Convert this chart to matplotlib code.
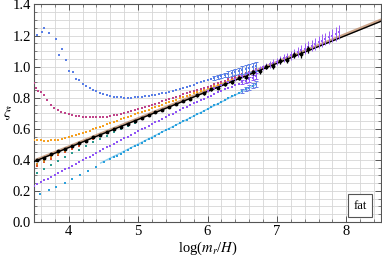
import numpy as np
import matplotlib
matplotlib.use("Agg")
import matplotlib.pyplot as plt
from matplotlib.ticker import MultipleLocator

plt.rcParams['font.family'] = ['Liberation Serif', 'DejaVu Serif']
plt.rcParams['mathtext.fontset'] = 'stix'

# ---- data ----
# blue
blue_x = [3.55, 3.61, 3.65, 3.71, 3.81, 3.86, 3.90, 3.96, 4.01, 4.06, 4.10, 4.15,
          4.20, 4.25, 4.30, 4.35, 4.40, 4.45, 4.50, 4.55, 4.60, 4.65, 4.70, 4.75, 4.80, 4.85,
          4.90, 4.95, 5.00, 5.05, 5.10, 5.15, 5.20, 5.25, 5.30, 5.35, 5.40, 5.45, 5.50, 5.55,
          5.60, 5.65, 5.70, 5.75, 5.80, 5.85, 5.90, 5.95, 6.00, 6.05, 6.10, 6.15, 6.20, 6.25,
          6.30, 6.35, 6.40, 6.45, 6.50, 6.55, 6.60, 6.65, 6.70]
blue_y = [1.202, 1.226, 1.250, 1.219, 1.176, 1.073, 1.116, 1.045, 0.970, 0.963, 0.921, 0.916,
          0.890, 0.876, 0.862, 0.851, 0.841, 0.832, 0.824, 0.817, 0.812, 0.807, 0.804, 0.802,
          0.801, 0.801, 0.801, 0.802, 0.803, 0.805, 0.808, 0.811, 0.815, 0.819, 0.823, 0.828,
          0.833, 0.839, 0.845, 0.851, 0.857, 0.864, 0.871, 0.878, 0.885, 0.892, 0.899, 0.906,
          0.913, 0.920, 0.927, 0.934, 0.940, 0.947, 0.953, 0.960, 0.966, 0.972, 0.978, 0.984,
          0.990, 0.996, 1.002]
blue_err = [0.010, 0.012, 0.014, 0.015, 0.017, 0.018, 0.020, 0.021, 0.023, 0.024, 0.026, 0.027, 0.029]

# magenta
mag_x = [3.50, 3.53, 3.56, 3.60, 3.64, 3.69, 3.74, 3.79, 3.84, 3.89, 3.94,
         4.00, 4.05, 4.10, 4.15, 4.20, 4.25, 4.30, 4.35, 4.40, 4.45, 4.50, 4.55, 4.60, 4.65,
         4.70, 4.75, 4.80, 4.85, 4.90, 4.95, 5.00, 5.05, 5.10, 5.15, 5.20, 5.25, 5.30, 5.35,
         5.40, 5.45, 5.50, 5.55, 5.60, 5.65, 5.70, 5.75, 5.80, 5.85, 5.90, 5.95, 6.00, 6.05,
         6.10, 6.15, 6.20, 6.25, 6.30, 6.35, 6.40, 6.45, 6.50, 6.55, 6.60, 6.65, 6.70]
mag_y = [0.895, 0.860, 0.845, 0.835, 0.820, 0.785, 0.755, 0.735, 0.722, 0.711, 0.702,
         0.695, 0.689, 0.684, 0.680, 0.677, 0.675, 0.674, 0.673, 0.673, 0.674, 0.676, 0.679,
         0.682, 0.686, 0.690, 0.695, 0.700, 0.706, 0.712, 0.718, 0.725, 0.732, 0.739, 0.746,
         0.753, 0.760, 0.768, 0.776, 0.784, 0.792, 0.800, 0.807, 0.814, 0.821, 0.828, 0.835,
         0.842, 0.849, 0.856, 0.863, 0.870, 0.878, 0.886, 0.894, 0.902, 0.910, 0.918, 0.926,
         0.934, 0.942, 0.950, 0.958, 0.966, 0.974, 0.982]

# orange
orn_x = [3.50, 3.55, 3.60, 3.65, 3.70, 3.75, 3.80, 3.85, 3.90, 3.95, 4.00, 4.05, 4.10,
         4.15, 4.20, 4.25, 4.30, 4.35, 4.40, 4.45, 4.50, 4.55, 4.60, 4.65, 4.70, 4.75, 4.80,
         4.85, 4.90, 4.95, 5.00, 5.05, 5.10, 5.15, 5.20, 5.25, 5.30, 5.35, 5.40, 5.45, 5.50,
         5.55, 5.60, 5.65, 5.70, 5.75, 5.80, 5.85, 5.90, 5.95, 6.00, 6.05, 6.10, 6.15, 6.20,
         6.25, 6.30, 6.35, 6.40, 6.45, 6.50, 6.55, 6.60, 6.65, 6.70]
orn_y = [0.528, 0.526, 0.525, 0.524, 0.524, 0.525, 0.527, 0.530, 0.534, 0.539, 0.545, 0.551,
         0.558, 0.565, 0.572, 0.580, 0.588, 0.596, 0.604, 0.612, 0.620, 0.628, 0.636, 0.644,
         0.652, 0.660, 0.668, 0.676, 0.684, 0.692, 0.700, 0.708, 0.716, 0.724, 0.732, 0.740,
         0.748, 0.756, 0.764, 0.772, 0.780, 0.788, 0.796, 0.804, 0.812, 0.820, 0.828, 0.836,
         0.844, 0.852, 0.860, 0.868, 0.876, 0.884, 0.892, 0.900, 0.909, 0.917, 0.926, 0.934,
         0.943, 0.951, 0.960, 0.968, 0.977]

# purple (low start)
pur_x = [3.50, 3.55, 3.60, 3.65, 3.70, 3.75, 3.80, 3.85, 3.90, 3.95, 4.00, 4.05, 4.10,
         4.15, 4.20, 4.25, 4.30, 4.35, 4.40, 4.45, 4.50, 4.55, 4.60, 4.65, 4.70, 4.75, 4.80,
         4.85, 4.90, 4.95, 5.00, 5.05, 5.10, 5.15, 5.20, 5.25, 5.30, 5.35, 5.40, 5.45, 5.50,
         5.55, 5.60, 5.65, 5.70, 5.75, 5.80, 5.85, 5.90, 5.95, 6.00, 6.05, 6.10, 6.15, 6.20,
         6.25, 6.30, 6.35, 6.40, 6.45, 6.50, 6.55, 6.60, 6.65, 6.70]
pur_y = [0.232, 0.244, 0.256, 0.268, 0.279, 0.291, 0.303, 0.315, 0.326, 0.338, 0.350, 0.362,
         0.374, 0.386, 0.397, 0.409, 0.421, 0.433, 0.444, 0.456, 0.468, 0.480, 0.491, 0.503,
         0.515, 0.527, 0.538, 0.550, 0.562, 0.573, 0.585, 0.596, 0.608, 0.619, 0.631, 0.642,
         0.653, 0.665, 0.676, 0.687, 0.698, 0.709, 0.720, 0.731, 0.742, 0.752, 0.763, 0.773,
         0.784, 0.794, 0.804, 0.814, 0.824, 0.834, 0.843, 0.853, 0.863, 0.872, 0.882, 0.891,
         0.901, 0.910, 0.920, 0.929, 0.938]
pur_err = [0.012, 0.014, 0.016, 0.018, 0.020]

# violet (high x)
vio_x = [6.00, 6.05, 6.10, 6.15, 6.20, 6.25, 6.30, 6.35, 6.40, 6.45, 6.50, 6.55, 6.60,
         6.65, 6.70, 6.75, 6.80, 6.85, 6.90, 6.95, 7.00, 7.05, 7.10, 7.15, 7.20, 7.25, 7.30,
         7.35, 7.40, 7.45, 7.50, 7.55, 7.60, 7.65, 7.70, 7.75, 7.80, 7.85, 7.90]
vio_y = [0.843, 0.852, 0.862, 0.871, 0.881, 0.890, 0.900, 0.909, 0.919, 0.928, 0.938, 0.947,
         0.957, 0.966, 0.976, 0.985, 0.995, 1.004, 1.014, 1.024, 1.033, 1.043, 1.053, 1.063,
         1.073, 1.084, 1.094, 1.105, 1.115, 1.126, 1.136, 1.147, 1.157, 1.168, 1.178, 1.189,
         1.199, 1.210, 1.220]
vio_err = [0.004, 0.005, 0.005, 0.006, 0.006, 0.007, 0.008, 0.008, 0.009, 0.010, 0.012,
           0.013, 0.014, 0.015, 0.016, 0.017, 0.018, 0.020, 0.021, 0.022, 0.024, 0.025,
           0.026, 0.027, 0.029, 0.030, 0.031, 0.033, 0.034, 0.036, 0.037, 0.038, 0.039,
           0.040, 0.041, 0.042, 0.043, 0.044, 0.045]

# cyan
cyan_x = [3.59, 3.71, 3.82, 3.94, 4.05, 4.17, 4.28, 4.40, 4.51,
          4.60, 4.65, 4.70, 4.75, 4.80, 4.85, 4.90, 4.95, 5.00, 5.05, 5.10, 5.15, 5.20, 5.25,
          5.30, 5.35, 5.40, 5.45, 5.50, 5.55, 5.60, 5.65, 5.70, 5.75, 5.80, 5.85, 5.90, 5.95,
          6.00, 6.05, 6.10, 6.15, 6.20, 6.25, 6.30, 6.35, 6.40, 6.45, 6.50, 6.55, 6.60, 6.65, 6.70]
cyan_y = [0.178, 0.203, 0.228, 0.254, 0.279, 0.305, 0.331, 0.357, 0.383,
          0.405, 0.417, 0.428, 0.440, 0.451, 0.463, 0.474, 0.486, 0.497, 0.509, 0.520, 0.532,
          0.543, 0.555, 0.566, 0.578, 0.589, 0.601, 0.612, 0.624, 0.635, 0.647, 0.658, 0.670,
          0.681, 0.693, 0.704, 0.716, 0.727, 0.739, 0.750, 0.762, 0.773, 0.785, 0.796, 0.808,
          0.819, 0.831, 0.842, 0.854, 0.865, 0.877, 0.888]
cyan_err = [0.012, 0.014, 0.015, 0.017, 0.018]

# small runs at low x (red, dark orange, teal)
red_x = [3.55, 3.65, 3.75, 3.85, 3.95, 4.05, 4.15, 4.25, 4.35, 4.45, 4.55, 4.65, 4.75, 4.85, 4.95, 5.05]
red_y = [0.360, 0.385, 0.405, 0.430, 0.450, 0.472, 0.492, 0.513, 0.534, 0.553, 0.573, 0.592,
         0.611, 0.630, 0.648, 0.666]
dor_y = [0.375, 0.395, 0.418, 0.438, 0.458, 0.480, 0.500, 0.520, 0.540, 0.558, 0.577, 0.596,
         0.614, 0.632, 0.650, 0.668]
teal_x = [3.55, 3.65, 3.75, 3.85, 3.95, 4.05, 4.15, 4.25, 4.35, 4.45, 4.55, 4.65, 4.75, 4.85, 4.95]
teal_y = [0.315, 0.340, 0.367, 0.393, 0.418, 0.443, 0.466, 0.490, 0.512, 0.535, 0.556, 0.578,
          0.598, 0.618, 0.638]

# black points
blk_x = [3.55, 3.65, 3.75, 3.85, 3.95, 4.05, 4.15, 4.25, 4.35, 4.45, 4.55, 4.65, 4.75, 4.85,
         4.95, 5.05, 5.15, 5.25, 5.35, 5.45, 5.55, 5.65, 5.75, 5.85, 5.95, 6.05, 6.15, 6.25,
         6.35, 6.45, 6.55, 6.65, 6.75, 6.85, 6.95, 7.05, 7.15, 7.25, 7.35, 7.45]
blk_y = [0.400, 0.415, 0.436, 0.455, 0.470, 0.490, 0.508, 0.524, 0.545, 0.560, 0.580, 0.598,
         0.614, 0.634, 0.650, 0.671, 0.686, 0.706, 0.722, 0.742, 0.758, 0.779, 0.794, 0.815,
         0.829, 0.853, 0.865, 0.889, 0.900, 0.926, 0.935, 0.963, 0.970, 1.000, 1.005, 1.038,
         1.045, 1.075, 1.080, 1.112]
blk_err = [0.003, 0.003, 0.003, 0.003, 0.003, 0.003, 0.003, 0.003, 0.004, 0.004, 0.004, 0.004,
           0.004, 0.005, 0.005, 0.005, 0.005, 0.006, 0.006, 0.006, 0.007, 0.007, 0.008, 0.008,
           0.009, 0.010, 0.010, 0.011, 0.012, 0.013, 0.014, 0.015, 0.016, 0.017, 0.018, 0.019,
           0.020, 0.021, 0.022, 0.024]

# fit lines
fit_x = [3.5, 8.5]
fit_y = [0.389, 1.292]
fit2_y = [0.393, 1.300]
lb_x = [4.46, 6.70]
lb_y = [0.380, 0.885]

# ---- figure ----
fig = plt.figure(figsize=(3.82, 2.58), dpi=100)
ax = fig.add_axes([34 / 382, 1 - 222 / 258, 347 / 382, 217.5 / 258])

ax.plot(fit_x, fit2_y, color='#c09070', lw=2.2, alpha=0.8, zorder=2)
ax.plot(lb_x, lb_y, color='#8fd0f0', lw=1.0, zorder=2)
ax.plot(fit_x, fit_y, color='black', lw=1.0, zorder=3)

ms = 2.0
ax.plot(teal_x, teal_y, 's', color='#2a9a8e', ms=ms, mew=0, zorder=4)
ax.plot(red_x, red_y, 's', color='#e0502a', ms=ms, mew=0, zorder=4)
ax.plot(red_x, dor_y, 's', color='#d98a22', ms=ms, mew=0, zorder=4)
ax.plot(cyan_x, cyan_y, 's', color='#2aa0dc', ms=ms, mew=0, zorder=4)
ax.errorbar(cyan_x[-5:], cyan_y[-5:], yerr=cyan_err, fmt='none', ecolor='#6a7ee8',
            elinewidth=0.7, capsize=1.2, capthick=0.7, zorder=4)
ax.plot(pur_x, pur_y, 's', color='#8f55f5', ms=ms, mew=0, zorder=4)
ax.errorbar(pur_x[-5:], pur_y[-5:], yerr=pur_err, fmt='none', ecolor='#8f55f5',
            elinewidth=0.7, capsize=1.2, capthick=0.7, zorder=4)
ax.errorbar(vio_x, vio_y, yerr=vio_err, fmt='s', color='#9a5cf5', ms=ms, mew=0,
            elinewidth=0.7, capsize=1.2, capthick=0.7, zorder=4)
ax.plot(orn_x, orn_y, 's', color='#f5a021', ms=ms, mew=0, zorder=4)
ax.plot(mag_x, mag_y, 's', color='#c0458a', ms=ms, mew=0, zorder=4)
ax.plot(blue_x, blue_y, 's', color='#5a7fe6', ms=ms, mew=0, zorder=4)
ax.errorbar(blue_x[-13:], blue_y[-13:], yerr=blue_err, fmt='none', ecolor='#5a7fe6',
            elinewidth=0.7, capsize=1.2, capthick=0.7, zorder=4)
ax.errorbar(blk_x, blk_y, yerr=blk_err, fmt='o', color='black', ms=2.8, mew=0,
            elinewidth=0.9, capsize=1.2, capthick=0.9, zorder=5)

ax.set_xlim(3.5, 8.5)
ax.set_ylim(0.0, 1.4)
ax.xaxis.set_major_locator(MultipleLocator(1))
ax.xaxis.set_minor_locator(MultipleLocator(0.2))
ax.yaxis.set_major_locator(MultipleLocator(0.2))
ax.yaxis.set_minor_locator(MultipleLocator(0.05))
ax.yaxis.set_major_formatter(plt.FormatStrFormatter('%.1f'))
ax.grid(which='both', color='#d6d6d6', lw=0.6, zorder=0)
ax.set_axisbelow(True)
ax.tick_params(which='both', direction='in', top=True, right=True, color='#555555',
               labelsize=10.5, pad=2)
ax.tick_params(which='major', length=4, width=0.7)
ax.tick_params(which='minor', length=2, width=0.5)
for s in ax.spines.values():
    s.set_color('#555555')
    s.set_linewidth(0.8)

ax.set_xlabel(r'log($m_r$/$H$)', fontsize=10.5, labelpad=1)
ax.set_ylabel(r'$\xi$', fontsize=11, rotation=0, labelpad=4, va='center')

ax.text(8.2, 0.105, 'fat', ha='center', va='center', fontsize=9, zorder=6,
        bbox=dict(boxstyle='square,pad=0.45', fc='white', ec='#555555', lw=0.8))

fig.savefig('out.png', dpi=100)
